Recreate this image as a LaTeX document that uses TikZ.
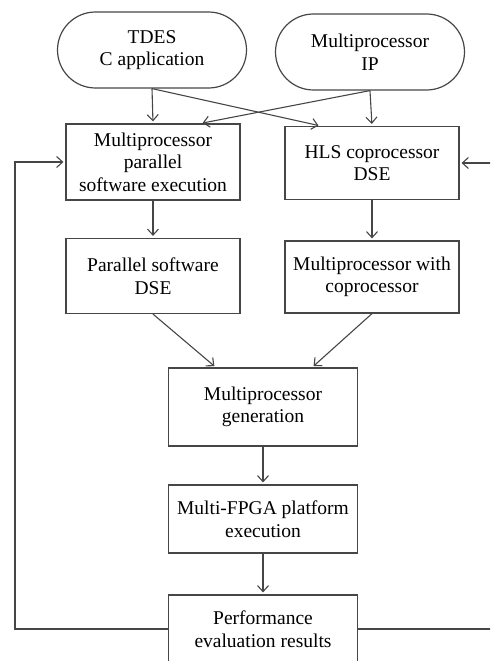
\documentclass[tikz,border=0pt]{standalone}
\usepackage{fontspec}
\setmainfont{Liberation Serif}
\usetikzlibrary{shapes, arrows.meta, positioning, calc, shapes.misc}
\definecolor{flowgray}{RGB}{70,70,70}

\begin{document}
\begin{tikzpicture}[x=1pt, y=-1pt,
    font=\fontsize{19.5}{22.5}\selectfont,
    >={Straight Barb[length=6pt, width=11pt]},
    term/.style={draw=flowgray, line width=1.2pt, rounded rectangle, align=center,
        minimum width=189pt, minimum height=76pt, inner sep=0pt},
    blk/.style={draw=flowgray, line width=1.2pt, rectangle, align=center,
        minimum width=174pt, minimum height=74pt, inner sep=0pt},
    wideblk/.style={blk, minimum width=189pt},
    flow/.style={->, flowgray, line width=1.1pt, shorten >=2pt}]
    \clip (0,0) rectangle (490,661);
    \useasboundingbox (0,0) rectangle (490,661);

    % --- inputs ---
    \node[term] (tdes) at (152, 50) {TDES\\C application};
    \node[term] (mpip) at (370, 52) {Multiprocessor\\IP};

    % --- first row ---
    \node[blk, minimum height=76pt] (mpexec) at (153, 162) {Multiprocessor\\parallel\\software execution};
    \node[blk, minimum height=73pt] (hlsdse) at (372, 163) {HLS coprocessor\\DSE};

    % --- second row ---
    \node[blk, minimum height=75pt] (swdse) at (153, 276) {Parallel software\\DSE};
    \node[blk, minimum height=72pt] (mpcop) at (372, 277) {Multiprocessor with\\coprocessor};

    % --- generation, execution, results ---
    \node[wideblk, minimum height=78pt] (mpgen) at (263, 407) {Multiprocessor\\generation};
    \node[wideblk, minimum height=68pt] (fpga) at (263, 519) {Multi-FPGA platform\\execution};
    \node[wideblk, minimum height=68pt] (perf) at (263, 629) {Performance\\evaluation results};

    % --- connectors ---
    \draw[flow] (tdes.south) -- (mpexec.north);
    \draw[flow] (tdes.south) -- ($(hlsdse.north west)+(36,0)$);
    \draw[flow] (mpip.south) -- (hlsdse.north);
    \draw[flow] (mpip.south) -- ($(mpexec.north east)+(-40,0)$);
    \draw[flow] (mpexec) -- (swdse);
    \draw[flow] (hlsdse) -- (mpcop);
    \draw[flow] (swdse.south) -- ($(mpgen.north west)+(48,0)$);
    \draw[flow] (mpcop.south) -- ($(mpgen.north east)+(-46,0)$);
    \draw[flow] (mpgen) -- (fpga);
    \draw[flow] (fpga) -- (perf);

    % --- feedback loops ---
    \coordinate (backL) at (15, 629);
    \coordinate (backR) at (495, 629);
    \draw[flow] (perf.west) -- (backL) |- (mpexec.west);
    \draw[flow] (perf.east) -- (backR) |- (hlsdse.east);
\end{tikzpicture}
\end{document}
